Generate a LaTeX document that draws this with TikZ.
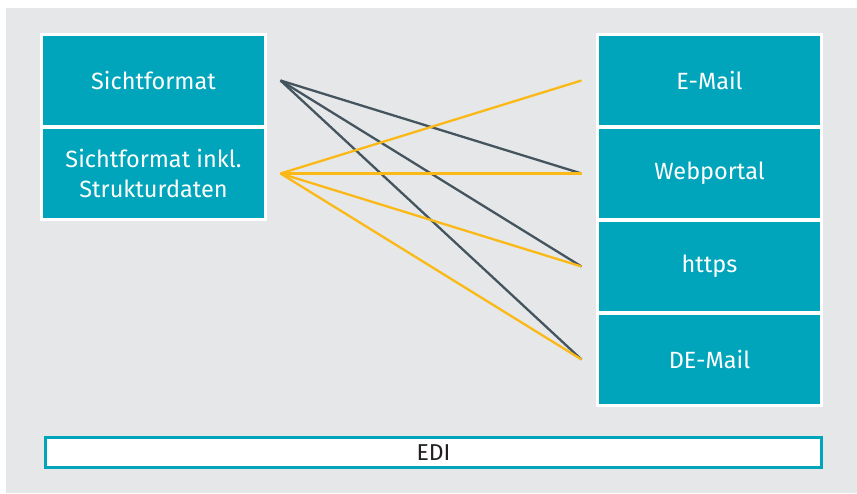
\documentclass[tikz,border=0pt]{standalone}
\usepackage{fontspec}
\setmainfont{Fira Sans}
\definecolor{bg}{HTML}{E6E7E8}
\definecolor{teal}{HTML}{00A5BB}
\definecolor{darkline}{HTML}{44555F}
\definecolor{yelline}{HTML}{FBB917}
\definecolor{txt}{HTML}{231F20}
\tikzset{
  box/.style={rectangle, fill=teal, draw=white, line width=3pt, minimum width=224pt, minimum height=92pt, inner sep=0pt, align=center, text=white, font=\fontsize{23.5}{30}\selectfont},
  darkc/.style={draw=darkline, line width=2.3pt},
  yelc/.style={draw=yelline, line width=2.3pt},
  edibox/.style={rectangle, fill=white, draw=teal, line width=3pt, minimum width=776pt, minimum height=30pt, inner sep=0pt, text=txt, font=\fontsize{23}{26}\selectfont}
}
\begin{document}
\begin{tikzpicture}[x=1pt,y=-1pt]
\useasboundingbox (0,0) rectangle (857,493);
\fill[white] (0,0) rectangle (857,493);
\fill[bg] (6,8) rectangle (857,493);
\node[box] (s1) at (153.5,80.5) {Sichtformat};
\node[box] (s2) at (153.5,173.5) {Sichtformat inkl.\\Strukturdaten};
\node[box] (r1) at (709.5,80.5) {E-Mail};
\node[box] (r2) at (709.5,173.5) {Webportal};
\node[box] (r3) at (709.5,266.5) {https};
\node[box] (r4) at (709.5,359.5) {DE-Mail};
\node[edibox] (edi) at (433.5,452.5) {EDI};
\coordinate (a1) at ([xshift=13.5pt]s1.east);
\coordinate (a2) at ([xshift=13.5pt]s2.east);
\coordinate (b1) at ([xshift=-14.5pt]r1.west);
\coordinate (b2) at ([xshift=-14.5pt]r2.west);
\coordinate (b3) at ([xshift=-14.5pt]r3.west);
\coordinate (b4) at ([xshift=-14.5pt]r4.west);
\draw[darkc] (a1) -- (b2);
\draw[darkc] (a1) -- (b3);
\draw[darkc] (a1) -- (b4);
\draw[yelc] (a2) -- (b1);
\draw[yelc] (a2) -- (b2);
\draw[yelc] (a2) -- (b3);
\draw[yelc] (a2) -- (b4);
\end{tikzpicture}
\end{document}
